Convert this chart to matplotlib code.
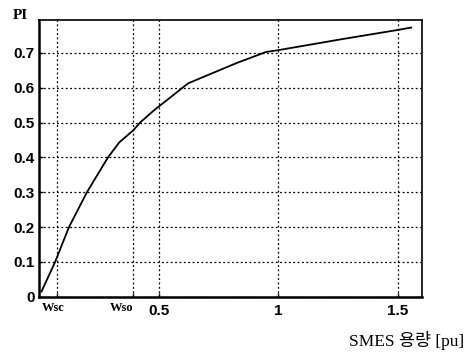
import numpy as np
import matplotlib.pyplot as plt
from matplotlib.transforms import blended_transform_factory

# values
smes = [0.01, 0.067, 0.125, 0.2, 0.288, 0.335, 0.394, 0.422, 0.48, 0.624, 0.826, 0.95, 1.0, 1.27, 1.5, 1.557]
pi_val = [0.015, 0.1, 0.2, 0.3, 0.4, 0.443, 0.478, 0.5, 0.535, 0.613, 0.671, 0.703, 0.708, 0.74, 0.766, 0.773]
w_sc = 0.076
w_so = 0.394
x_ticks = [0.5, 1, 1.5]
x_labels = ['0.5', '1', '1.5']
y_ticks = [0, 0.1, 0.2, 0.3, 0.4, 0.5, 0.6, 0.7]
y_labels = ['0', '0.1', '0.2', '0.3', '0.4', '0.5', '0.6', '0.7']

fig = plt.figure(figsize=(4.71, 3.55), dpi=100)
ax = fig.add_axes([0.083, 0.164, 0.812, 0.78])

ax.plot(smes, pi_val, color='black', lw=1.3)
ax.set_xlim(0, 1.6)
ax.set_ylim(0, 0.795)

ax.set_xticks([w_sc, w_so] + x_ticks)
ax.set_xticklabels(['', ''] + x_labels)
ax.set_yticks(y_ticks)
ax.set_yticklabels(y_labels)
for lab in ax.get_xticklabels() + ax.get_yticklabels():
    lab.set_family('Liberation Sans')
    lab.set_fontweight('bold')
    lab.set_fontsize(11)
ax.tick_params(axis='both', direction='in', length=3, width=1, pad=3, color='black')
ax.tick_params(axis='x', pad=5)

ax.grid(True, color='black', linestyle=(0, (1.5, 2)), linewidth=0.9)

for side in ['left', 'bottom']:
    ax.spines[side].set_linewidth(1.8)
for side in ['top', 'right']:
    ax.spines[side].set_linewidth(1.2)

trans = blended_transform_factory(ax.transData, ax.transAxes)
ax.text(0.012, -0.02, 'Wsc', transform=trans, ha='left', va='top',
        family='Liberation Serif', fontweight='bold', fontsize=9)
ax.text(w_so, -0.02, 'Wso', transform=trans, ha='right', va='top',
        family='Liberation Serif', fontweight='bold', fontsize=9)

fig.text(0.028, 0.955, 'PI', family='Liberation Serif', fontweight='bold',
         fontsize=11, ha='left', va='center')
fig.text(0.985, 0.04, 'SMES 용량 [pu]', family=['Liberation Serif', 'Noto Sans CJK KR'],
         fontsize=12.5, ha='right', va='center')

fig.savefig('out.png', dpi=100)
